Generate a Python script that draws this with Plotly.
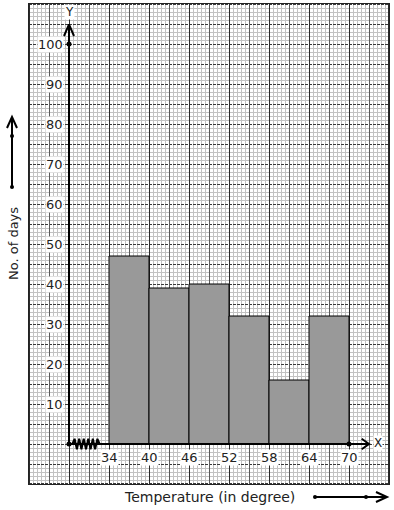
import plotly.graph_objects as go

# ---- data ----
class_starts = [34, 40, 46, 52, 58, 64]
class_ends = [40, 46, 52, 58, 64, 70]
days = [47, 39, 40, 32, 16, 32]
x_tick_labels = ["34", "40", "46", "52", "58", "64", "70"]
x_tick_vals = [34, 40, 46, 52, 58, 64, 70]
y_tick_vals = [10, 20, 30, 40, 50, 60, 70, 80, 90, 100]
y_tick_labels = ["10", "20", "30", "40", "50", "60", "70", "80", "90", "100"]

X_ORIGIN = 28  # where the broken axis starts
FONT = "DejaVu Sans"

W, H = 394, 510
ML, MR, MT, MB = 29, 5, 4, 26
PW, PH = W - ML - MR, H - MT - MB
XR = [22, 76]
YR = [-10, 110]
UX = (XR[1] - XR[0]) / PW   # data units per pixel
UY = (YR[1] - YR[0]) / PH


def px(xp):
    return (xp - ML) / PW


def py(yp):
    return 1 - (yp - MT) / PH


def col_to_x(n):
    return XR[0] + (n + 0.5 - ML) * UX


def row_to_y(n):
    return YR[1] - (n + 0.5 - MT) * UY


# ---- graph-paper grid as shapes (below traces) ----
minor_v, major_v_dark, major_v_mid, minor_h, major_h = [], [], [], [], []
for k in range(0, PW // 4 + 1):
    n = ML + 4 * k
    if n >= W - MR:
        n = W - MR - 1
    x = col_to_x(n)
    seg = f"M {x:.4f} {YR[0]} L {x:.4f} {YR[1]}"
    if k % 5 == 0:
        (major_v_dark if (k // 5) % 2 == 0 else major_v_mid).append(seg)
    else:
        minor_v.append(seg)
for k in range(0, PH // 4 + 1):
    n = MT + 4 * k
    if n >= H - MB:
        n = H - MB - 1
    y = row_to_y(n)
    seg = f"M {XR[0]} {y:.4f} L {XR[1]} {y:.4f}"
    (major_h if k % 5 == 0 else minor_h).append(seg)

shapes = [
    dict(type="path", xref="x", yref="y", layer="below", path=" ".join(minor_v),
         line=dict(color="#c2c2c2", width=1)),
    dict(type="path", xref="x", yref="y", layer="below", path=" ".join(minor_h),
         line=dict(color="#c2c2c2", width=1)),
    dict(type="path", xref="x", yref="y", layer="below", path=" ".join(major_h),
         line=dict(color="#3a3a3a", width=1, dash="3px,1px")),
    dict(type="path", xref="x", yref="y", layer="below", path=" ".join(major_v_mid),
         line=dict(color="#5a5a5a", width=1)),
    dict(type="path", xref="x", yref="y", layer="below", path=" ".join(major_v_dark),
         line=dict(color="#2a2a2a", width=1)),
]

fig = go.Figure()

# bars
fig.add_trace(go.Bar(
    x=[(a + b) / 2 for a, b in zip(class_starts, class_ends)],
    y=days,
    width=[b - a for a, b in zip(class_starts, class_ends)],
    marker=dict(color="#999999", line=dict(color="black", width=1)),
    hoverinfo="skip",
))

X_END = 73.0
# axes lines
fig.add_trace(go.Scatter(x=[X_ORIGIN, X_END], y=[0, 0], mode="lines",
                         line=dict(color="black", width=2), hoverinfo="skip"))
fig.add_trace(go.Scatter(x=[X_ORIGIN, X_ORIGIN], y=[0, 104.8], mode="lines",
                         line=dict(color="black", width=2), hoverinfo="skip"))
# arrowheads (chevrons)
fig.add_trace(go.Scatter(x=[X_ORIGIN - 0.75, X_ORIGIN, X_ORIGIN + 0.75],
                         y=[102.0, 104.9, 102.0], mode="lines",
                         line=dict(color="black", width=2), hoverinfo="skip"))
fig.add_trace(go.Scatter(x=[X_END - 1.1, X_END, X_END - 1.1],
                         y=[1.3, 0, -1.3], mode="lines",
                         line=dict(color="black", width=2), hoverinfo="skip"))
# zigzag (axis break)
zx, zy = [], []
n = 12
x0z, x1z = 28.5, 32.6
for i in range(n + 1):
    zx.append(x0z + (x1z - x0z) * i / n)
    zy.append(0 if i in (0, n) else (1.3 if i % 2 else -1.3))
fig.add_trace(go.Scatter(x=zx, y=zy, mode="lines",
                         line=dict(color="black", width=2), hoverinfo="skip"))
# dots
fig.add_trace(go.Scatter(x=[X_ORIGIN, X_ORIGIN, x_tick_vals[-1]], y=[100, 0, 0],
                         mode="markers", marker=dict(color="black", size=5),
                         hoverinfo="skip"))

annotations = []
for v, t in zip(y_tick_vals, y_tick_labels):
    annotations.append(dict(x=X_ORIGIN - 0.75, y=v, text=t, showarrow=False,
                            xanchor="right", yanchor="middle",
                            bgcolor="white", borderpad=0,
                            font=dict(family=FONT, size=13, color="#222")))
for v, t in zip(x_tick_vals, x_tick_labels):
    annotations.append(dict(x=v, y=-3.25, text=t, showarrow=False,
                            xanchor="center", yanchor="middle",
                            bgcolor="white", borderpad=0,
                            font=dict(family=FONT, size=13, color="#222")))
annotations.append(dict(x=X_ORIGIN, y=108.0, text="Y", showarrow=False,
                        xanchor="center", yanchor="middle", bgcolor="white", borderpad=0,
                        font=dict(family=FONT, size=12, color="#222")))
annotations.append(dict(x=X_END + 1.35, y=0.2, text="X", showarrow=False,
                        xanchor="center", yanchor="middle", bgcolor="white", borderpad=0,
                        font=dict(family=FONT, size=12, color="#222")))
annotations.append(dict(x=px(209), y=py(497), xref="paper", yref="paper",
                        text="Temperature (in degree)", showarrow=False,
                        xanchor="center", yanchor="middle",
                        font=dict(family=FONT, size=14, color="#222")))
annotations.append(dict(x=px(13), y=py(244), xref="paper", yref="paper",
                        text="No. of days", showarrow=False, textangle=-90,
                        xanchor="center", yanchor="middle",
                        font=dict(family=FONT, size=13, color="#222")))

# left vertical arrow
shapes.append(dict(type="line", xref="paper", yref="paper",
                   x0=px(12), x1=px(12), y0=py(187), y1=py(118),
                   line=dict(color="black", width=2)))
shapes.append(dict(type="path", xref="paper", yref="paper",
                   path=f"M {px(7)} {py(128)} L {px(12)} {py(117)} L {px(17)} {py(128)}",
                   line=dict(color="black", width=2)))
for yy in (187, 136):
    shapes.append(dict(type="circle", xref="paper", yref="paper",
                       x0=px(10), x1=px(14), y0=py(yy - 2), y1=py(yy + 2),
                       fillcolor="black", line=dict(color="black", width=0)))
# bottom horizontal arrow
shapes.append(dict(type="line", xref="paper", yref="paper",
                   x0=px(315), x1=px(386), y0=py(497), y1=py(497),
                   line=dict(color="black", width=2)))
shapes.append(dict(type="path", xref="paper", yref="paper",
                   path=f"M {px(376)} {py(492)} L {px(387)} {py(497)} L {px(376)} {py(502)}",
                   line=dict(color="black", width=2)))
for xx in (315, 366):
    shapes.append(dict(type="circle", xref="paper", yref="paper",
                       x0=px(xx - 2), x1=px(xx + 2), y0=py(495), y1=py(499),
                       fillcolor="black", line=dict(color="black", width=0)))

fig.update_layout(
    width=W, height=H,
    margin=dict(l=ML, r=MR, t=MT, b=MB, pad=0),
    paper_bgcolor="white", plot_bgcolor="white",
    showlegend=False,
    annotations=annotations,
    shapes=shapes,
    xaxis=dict(range=XR, showticklabels=False, ticks="", showgrid=False, zeroline=False,
               showline=True, mirror=True, linecolor="#222", linewidth=1),
    yaxis=dict(range=YR, showticklabels=False, ticks="", showgrid=False, zeroline=False,
               showline=True, mirror=True, linecolor="#222", linewidth=1),
)

fig.write_html("out.html")
